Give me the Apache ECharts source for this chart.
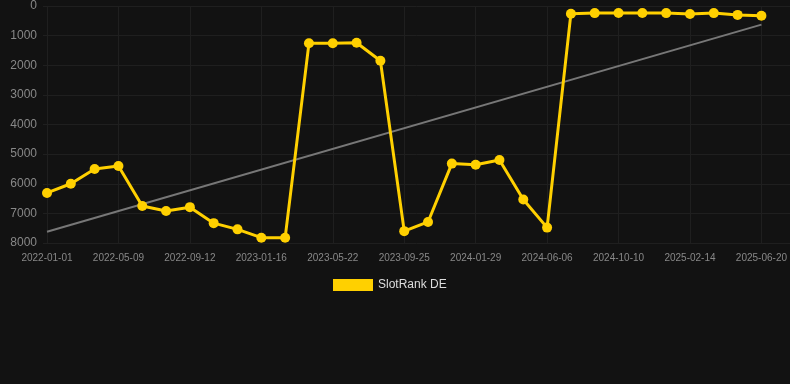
<!DOCTYPE html>
<html><head><meta charset="utf-8">
<script src="https://cdn.jsdelivr.net/npm/echarts@6/dist/echarts.min.js"></script>
<style>html,body{margin:0;padding:0;background:#121212}#c{width:790px;height:384px}</style>
</head><body><div id="c"></div>
<script>
var categories = ["2022-01-01","2022-02-14","2022-03-28","2022-05-09","2022-06-20","2022-08-01","2022-09-12","2022-10-24","2022-12-05","2023-01-16","2023-02-27","2023-04-10","2023-05-22","2023-07-03","2023-08-14","2023-09-25","2023-11-06","2023-12-18","2024-01-29","2024-03-11","2024-04-24","2024-06-06","2024-07-18","2024-08-29","2024-10-10","2024-11-21","2025-01-02","2025-02-14","2025-03-28","2025-05-09","2025-06-20"];
var rankValues = [6310,6000,5500,5400,6750,6920,6790,7330,7540,7820,7820,1260,1260,1240,1850,7600,7290,5320,5360,5200,6530,7480,260,240,235,235,240,270,240,300,330];
var trendValues = [7620,null,null,null,null,null,null,null,null,null,null,null,null,null,null,null,null,null,null,null,null,null,null,null,null,null,null,null,null,null,630];
var yTicks = [0,1000,2000,3000,4000,5000,6000,7000,8000];
var font = 'Arial, Liberation Sans, sans-serif';
var chart = echarts.init(document.getElementById('c'));
chart.setOption({
  backgroundColor:'#121212',
  animation:false,
  grid:[{left:47,right:28,top:6,bottom:141},{left:43,right:0,top:6,bottom:141}],
  legend:{bottom:93,left:333,itemWidth:40,itemHeight:12,itemGap:10,icon:'rect',padding:0,textStyle:{color:'#ddd',fontSize:12,fontFamily:font},data:['SlotRank DE']},
  xAxis:[{type:'category',data:categories,boundaryGap:false,gridIndex:0,
    axisLine:{show:false},axisTick:{show:false},
    axisLabel:{interval:2,color:'#888',fontSize:10,margin:10,fontFamily:font},
    splitLine:{show:true,interval:2,lineStyle:{color:'#1f1f1f',width:1}}},
    {type:'value',gridIndex:1,show:false,min:0,max:1,splitLine:{show:false}}],
  yAxis:[{type:'value',inverse:true,min:yTicks[0],max:yTicks[yTicks.length-1],interval:1000,gridIndex:0,
    axisLine:{show:false},axisTick:{show:false},
    axisLabel:{color:'#888',fontSize:12,margin:10,fontFamily:font,formatter:function(v){return String(v);}},
    splitLine:{show:false}},
    {type:'value',inverse:true,min:yTicks[0],max:yTicks[yTicks.length-1],interval:1000,gridIndex:1,
    axisLine:{show:false},axisTick:{show:false},axisLabel:{show:false},
    splitLine:{lineStyle:{color:'#1f1f1f',width:1}}}],
  series:[
    {name:'trend',type:'line',data:trendValues,connectNulls:true,symbol:'none',lineStyle:{color:'#777',width:2},z:1,silent:true},
    {name:'SlotRank DE',type:'line',data:rankValues,symbol:'circle',symbolSize:10,
      itemStyle:{color:'#FFD000'},lineStyle:{color:'#FFD000',width:3},z:2}
  ]
});
</script></body></html>
